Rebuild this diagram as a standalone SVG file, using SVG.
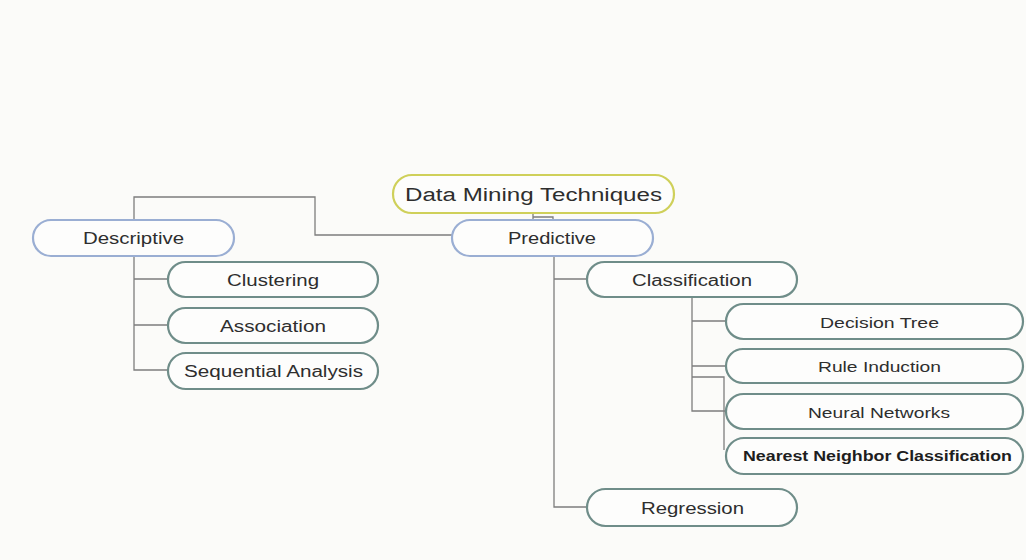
<svg xmlns="http://www.w3.org/2000/svg" width="1026" height="560" viewBox="0 0 1026 560">
  <defs>
    <style>
      .bg { fill: #fbfbf9; }
      .wire { fill: none; stroke: #7d7d7d; stroke-width: 1.3; }
      .pill { fill: #fdfdfc; stroke-width: 2.2; }
      .root { stroke: #cfd05a; }
      .mid { stroke: #9aaed3; }
      .leaf { stroke: #6f8d89; }
      text { font-family: "Liberation Sans", Arial, sans-serif; fill: #2e2e2e; text-anchor: middle; dominant-baseline: central; }
      .t-root { font-size: 18px; }
      .t-mid { font-size: 16px; }
      .t-leaf { font-size: 16px; }
      .t-small { font-size: 15px; }
      .t-bold { font-size: 14px; font-weight: bold; fill: #1e1e1e; }
    </style>
  </defs>

  <rect class="bg" x="0" y="0" width="1026" height="560"/>

  <!-- connectors -->
  <g id="connectors">
    <!-- root to Predictive -->
    <path class="wire" d="M533 213 V226 M533 217 H553 V220"/>
    <!-- Predictive to Descriptive -->
    <path class="wire" d="M452 235 H315 V197 H134 V220"/>
    <!-- Descriptive children -->
    <path class="wire" d="M134 256 V370 H168 M134 279 H168 M134 325 H168"/>
    <!-- Predictive children -->
    <path class="wire" d="M554 256 V507 H587 M554 279 H587"/>
    <!-- Classification children -->
    <path class="wire" d="M692 297 V411 H726 M692 321 H726 M692 366 H726 M692 377 H724 V450"/>
  </g>

  <g id="node-root">
    <rect class="pill root" x="393" y="175" width="281" height="38" rx="19"/>
    <text class="t-root" x="533.5" y="195" textLength="257" lengthAdjust="spacingAndGlyphs">Data Mining Techniques</text>
  </g>

  <g id="node-descriptive">
    <rect class="pill mid" x="33" y="220" width="201" height="36" rx="18"/>
    <text class="t-mid" x="133.5" y="238" textLength="101" lengthAdjust="spacingAndGlyphs">Descriptive</text>
  </g>

  <g id="node-predictive">
    <rect class="pill mid" x="452" y="220" width="201" height="36" rx="18"/>
    <text class="t-mid" x="552" y="238" textLength="88" lengthAdjust="spacingAndGlyphs">Predictive</text>
  </g>

  <g id="node-clustering">
    <rect class="pill leaf" x="168" y="262" width="210" height="35" rx="17.5"/>
    <text class="t-leaf" x="273" y="280" textLength="92" lengthAdjust="spacingAndGlyphs">Clustering</text>
  </g>

  <g id="node-association">
    <rect class="pill leaf" x="168" y="308" width="210" height="35" rx="17.5"/>
    <text class="t-leaf" x="273" y="326" textLength="106" lengthAdjust="spacingAndGlyphs">Association</text>
  </g>

  <g id="node-sequential">
    <rect class="pill leaf" x="168" y="353" width="210" height="36" rx="18"/>
    <text class="t-leaf" x="273.5" y="371" textLength="179" lengthAdjust="spacingAndGlyphs">Sequential Analysis</text>
  </g>

  <g id="node-classification">
    <rect class="pill leaf" x="587" y="262" width="210" height="35" rx="17.5"/>
    <text class="t-leaf" x="692" y="280" textLength="120" lengthAdjust="spacingAndGlyphs">Classification</text>
  </g>

  <g id="node-regression">
    <rect class="pill leaf" x="587" y="489" width="210" height="37" rx="18.5"/>
    <text class="t-leaf" x="692.5" y="508" textLength="103" lengthAdjust="spacingAndGlyphs">Regression</text>
  </g>

  <g id="node-decision-tree">
    <rect class="pill leaf" x="726" y="304" width="297" height="35" rx="17.5"/>
    <text class="t-small" x="879.5" y="322" textLength="119" lengthAdjust="spacingAndGlyphs">Decision Tree</text>
  </g>

  <g id="node-rule-induction">
    <rect class="pill leaf" x="726" y="349" width="297" height="34" rx="17"/>
    <text class="t-small" x="879.5" y="366" textLength="123" lengthAdjust="spacingAndGlyphs">Rule Induction</text>
  </g>

  <g id="node-neural-networks">
    <rect class="pill leaf" x="726" y="394" width="297" height="35" rx="17.5"/>
    <text class="t-small" x="879" y="412" textLength="142" lengthAdjust="spacingAndGlyphs">Neural Networks</text>
  </g>

  <g id="node-nearest-neighbor">
    <rect class="pill leaf" x="726" y="438" width="297" height="36" rx="18"/>
    <text class="t-bold" x="877.5" y="456" textLength="269" lengthAdjust="spacingAndGlyphs">Nearest Neighbor Classification</text>
  </g>
</svg>
